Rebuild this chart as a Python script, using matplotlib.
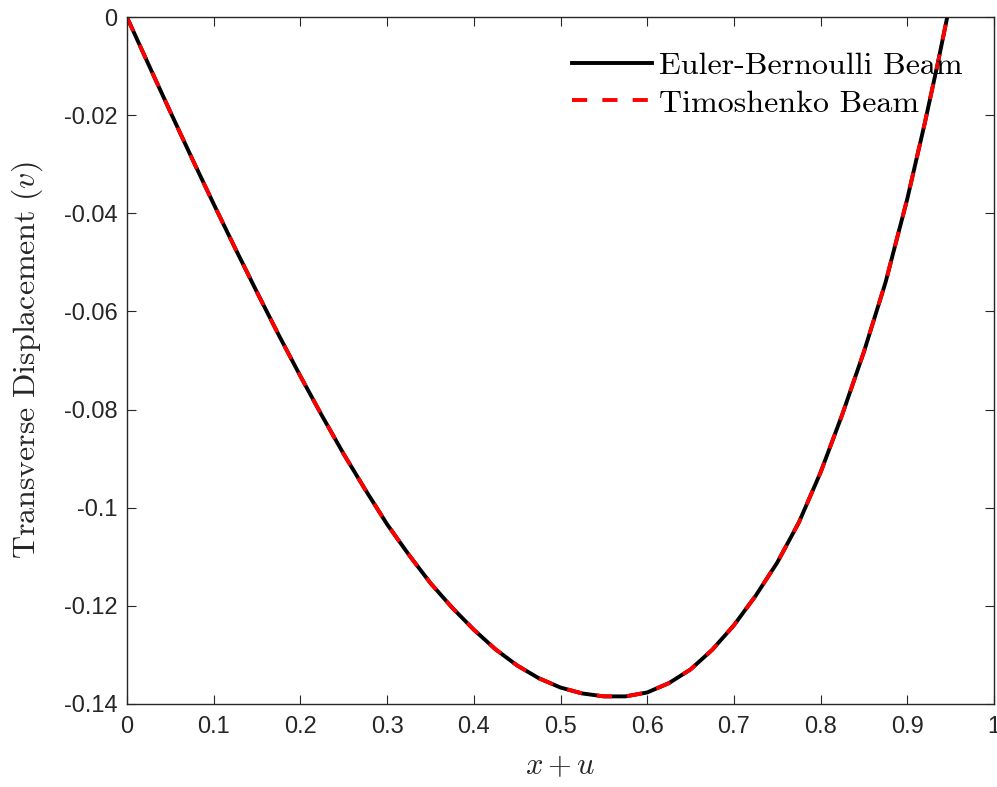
import numpy as np
import matplotlib
matplotlib.use("Agg")
import matplotlib.pyplot as plt

# values
x_pos = [0, 0.025, 0.05, 0.075, 0.1, 0.125, 0.15, 0.175, 0.2, 0.225,
         0.25, 0.275, 0.3, 0.325, 0.35, 0.375, 0.4, 0.425, 0.45, 0.475,
         0.5, 0.525, 0.55, 0.575, 0.6, 0.625, 0.65, 0.675, 0.7, 0.725,
         0.75, 0.775, 0.8, 0.825, 0.85, 0.875, 0.9, 0.92, 0.935, 0.946]
v_euler = [0, -0.0097, -0.0193, -0.0288, -0.0381, -0.0472, -0.0561, -0.0648, -0.0732, -0.0813,
           -0.0891, -0.0964, -0.1034, -0.1096, -0.1154, -0.1204, -0.1249, -0.1289, -0.1322, -0.1348,
           -0.1367, -0.1379, -0.1385, -0.1385, -0.1377, -0.1358, -0.1330, -0.1290, -0.1240, -0.1180,
           -0.1112, -0.1030, -0.0928, -0.0810, -0.0682, -0.0540, -0.0370, -0.0217, -0.0095, 0.0]
v_timo = list(v_euler)  # the two curves overlap in the picture

x_ticks = [0, 0.1, 0.2, 0.3, 0.4, 0.5, 0.6, 0.7, 0.8, 0.9, 1]
x_ticklabels = ["0", "0.1", "0.2", "0.3", "0.4", "0.5", "0.6", "0.7", "0.8", "0.9", "1"]
y_ticks = [-0.14, -0.12, -0.1, -0.08, -0.06, -0.04, -0.02, 0]
y_ticklabels = ["-0.14", "-0.12", "-0.1", "-0.08", "-0.06", "-0.04", "-0.02", "0"]

plt.rcParams["mathtext.fontset"] = "cm"
plt.rcParams["font.family"] = ["Liberation Sans", "DejaVu Sans"]

ax_col = "#262626"

fig = plt.figure(figsize=(9.97, 7.87), dpi=100)
ax = fig.add_axes([0.1274, 0.1058, 0.8696, 0.8722])

ax.plot(x_pos, v_euler, color="black", lw=2.8, label="Euler-Bernoulli Beam")
ax.plot(x_pos, v_timo, color="red", lw=2.8, dashes=(3.9, 3.9), label="Timoshenko Beam")

ax.set_xlim(0, 1)
ax.set_ylim(-0.14, 0)
ax.set_xticks(x_ticks)
ax.set_xticklabels(x_ticklabels)
ax.set_yticks(y_ticks)
ax.set_yticklabels(y_ticklabels)

ax.tick_params(direction="in", top=True, right=True, length=6.5, width=0.8,
               colors=ax_col, labelsize=17)
ax.tick_params(axis="x", pad=9)
ax.tick_params(axis="y", pad=7)
for s in ax.spines.values():
    s.set_color(ax_col)
    s.set_linewidth(1.0)

ax.set_xlabel(r"$x + u$", fontsize=22, color=ax_col, labelpad=9)
ax.set_ylabel(r"$\mathrm{Transverse\ Displacement}\ (v)$", fontsize=23,
              color=ax_col, labelpad=13)

ax.legend(loc="upper right", bbox_to_anchor=(0.978, 0.969), frameon=False,
          handlelength=2.5, handletextpad=0.22, labelspacing=0.3,
          borderaxespad=0.0, prop={"family": "cmr10", "size": 23})

fig.savefig("out.png", dpi=100)
